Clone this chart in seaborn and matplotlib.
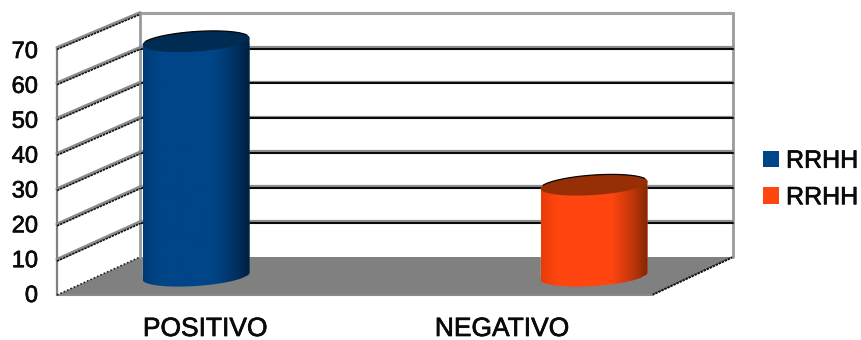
import numpy as np
import pandas as pd
import matplotlib
matplotlib.use("Agg")
import matplotlib.pyplot as plt
import matplotlib.patheffects as pe
from matplotlib.colors import LinearSegmentedColormap, to_hex, to_rgb
from matplotlib.patches import Patch, PathPatch, Polygon, Rectangle
from matplotlib.path import Path
import seaborn as sns

# Chart data
categories = ["POSITIVO", "NEGATIVO"]
values = [67, 26]
series_labels = ["RRHH", "RRHH"]
ticks = [0, 10, 20, 30, 40, 50, 60, 70]
base_colors = ["#004587", "#FF4510"]
edge_dark = ["#001F3F", "#7F2804"]
edge_left = ["#003A75", "#E83C08"]
top_colors = ["#002B52", "#962F05"]

sns.set_theme(style="white")
plt.rcParams["font.family"] = ["Liberation Sans", "DejaVu Sans"]

W, H = 861, 340
fig = plt.figure(figsize=(W / 100, H / 100), dpi=100, facecolor="white")
ax = fig.add_axes([0, 0, 1, 1])

# One category step spans 398 px, one value unit 3.5 px; zero of the bar plane sits at y=276 px.
X0, XSTEP = 196, 398
Y0, YSTEP = 276, 3.5
ax_xlim = ((0 - X0) / XSTEP, (W - X0) / XSTEP)
ax_ylim = ((Y0 - H) / YSTEP, Y0 / YSTEP)


def px(x):
    return (x - X0) / XSTEP


def py(y):
    return (Y0 - y) / YSTEP


# Box of the 3D scene: front and rear planes relative to the bar plane
front_x0, rear_x0 = 57, 140
front_x1, rear_x1 = 652, 733
front_zero, rear_zero = 295, 257


def front_y(v):
    return py(front_zero) + v * (247 / 70) / YSTEP


def rear_y(v):
    return py(rear_zero) + v * (244 / 70) / YSTEP


# Floor
ax.add_patch(Polygon(
    [(px(front_x0), py(front_zero)), (px(rear_x0), py(rear_zero)),
     (px(rear_x1), py(rear_zero)), (px(front_x1), py(front_zero))],
    closed=True, facecolor="#808080", edgecolor="none", zorder=1))
ax.plot([px(rear_x1), px(front_x1)], [py(rear_zero), py(front_zero)],
        color="#111111", lw=1.5, ls=(0, (1.2, 0.4)), zorder=2)
ax.plot([px(front_x0), px(front_x1)], [py(front_zero), py(front_zero)], color="#8A8A8A", lw=1.5, zorder=2)

# Wall frame
ax.plot([px(front_x0)] * 2, [front_y(0), front_y(ticks[-1])], color="#808080", lw=1.6, zorder=2)
ax.plot([px(rear_x0)] * 2, [rear_y(0), rear_y(ticks[-1])], color="#9A9A9A", lw=2.0, zorder=2)
ax.plot([px(rear_x1)] * 2, [rear_y(0), rear_y(ticks[-1])], color="#9A9A9A", lw=2.0, zorder=2)

# Gridlines on the rear wall and on the side wall
for t in ticks:
    if t == 0:
        ax.plot([px(front_x0), px(rear_x0)], [front_y(t), rear_y(t)],
                color="#222222", lw=1.2, ls=(0, (1, 1.2)), zorder=2)
        continue
    if t == ticks[-1]:
        ax.plot([px(rear_x0), px(rear_x1)], [rear_y(t)] * 2, color="#A0A0A0", lw=2.2, zorder=2)
    else:
        ax.plot([px(rear_x0), px(rear_x1)], [rear_y(t) + 0.3] * 2, color="#8F8F8F", lw=1.6, zorder=2)
        ax.plot([px(rear_x0), px(rear_x1)], [rear_y(t) - 0.2] * 2, color="#0A0A0A", lw=1.5, zorder=2)
    ax.plot([px(front_x0), px(rear_x0)], [front_y(t) + 0.1, rear_y(t) + 0.1],
            color="#8C8C8C", lw=2.2, zorder=2)
    ax.plot([px(front_x0), px(rear_x0)], [front_y(t) - 0.4, rear_y(t) - 0.4],
            color="#111111", lw=1.2, ls=(0, (1.5, 0.5)), zorder=2)

# Cylinder bodies are the seaborn bars, reshaped by clipping
frame = pd.DataFrame({"cat": categories, "val": values})
sns.barplot(data=frame, x="cat", y="val", hue="cat", palette=base_colors, dodge=False,
            width=107 / XSTEP, legend=False, ax=ax, zorder=3, saturation=1)
bars = [p for p in ax.patches if isinstance(p, Rectangle)]

semi_b = 10 / YSTEP
tilt = -3.5 / YSTEP  # drop of the left rim, in value units


def rim(cx, half_w, base, start, stop, n=60):
    t = np.linspace(start, stop, n)
    return np.column_stack([cx + half_w * np.cos(t),
                            base + semi_b * np.sin(t) - tilt * np.cos(t)])


def blend(a, b):
    return to_hex((np.array(to_rgb(a)) + np.array(to_rgb(b))) / 2)


for i, bar in enumerate(bars):
    x0, w, h = bar.get_x(), bar.get_width(), bar.get_height()
    cx, hw = x0 + w / 2, w / 2
    lower = rim(cx, hw, 0, np.pi, 2 * np.pi)
    upper = rim(cx, hw, h, 0, np.pi)
    body = np.vstack([lower, upper, lower[:1]])
    clip = PathPatch(Path(body), transform=ax.transData, facecolor="none", edgecolor="none")
    ax.add_patch(clip)
    bar.set_clip_path(clip)

    cmap = LinearSegmentedColormap.from_list(
        "shade", [(0, edge_left[i]), (0.15, base_colors[i]), (0.66, base_colors[i]),
                  (0.86, blend(base_colors[i], edge_dark[i])), (1, edge_dark[i])])
    img = ax.imshow(np.linspace(0, 1, 256)[None, :], cmap=cmap, aspect="auto",
                    extent=(x0, x0 + w, -semi_b * 2, h + semi_b * 2), zorder=3.5)
    img.set_clip_path(clip)

    ring = rim(cx, hw, h, 0, 2 * np.pi)
    ax.add_patch(Polygon(ring, closed=True, facecolor=top_colors[i], edgecolor="none", zorder=4))
    ax.plot(*rim(cx, hw, h, 0.1 * np.pi, 0.9 * np.pi).T, color="#050505", lw=0.9, zorder=4)

ax.set_xlim(*ax_xlim)
ax.set_ylim(*ax_ylim)
ax.axis("off")

# A hairline stroke gives the labels their heavier weight
heavy = [pe.withStroke(linewidth=0.5, foreground="#0A0A0A")]

# Value axis labels sit a little below the front plane's gridline ends
for t in ticks:
    ax.text(px(38), py(296 - t * 244 / 70), str(t), ha="right", va="center",
            fontsize=17, color="#0A0A0A", path_effects=heavy)

# Category labels
label_x = [205, 502]
for name, lx in zip(categories, label_x):
    ax.text(px(lx), py(329), name, ha="center", va="center", fontsize=19,
            color="#0A0A0A", path_effects=heavy)

handles = [Patch(facecolor=c, edgecolor="none") for c in base_colors]
legend = ax.legend(handles, series_labels, loc="center left", bbox_to_anchor=(753 / W, (H - 179) / H),
                   bbox_transform=fig.transFigure, frameon=False, fontsize=18, handlelength=0.62,
                   handleheight=0.62, handletextpad=0.3, labelspacing=0.5, borderpad=0,
                   borderaxespad=0.4, labelcolor="#0A0A0A")
for label in legend.get_texts():
    label.set_path_effects(heavy)

fig.savefig("out.png", dpi=100)
